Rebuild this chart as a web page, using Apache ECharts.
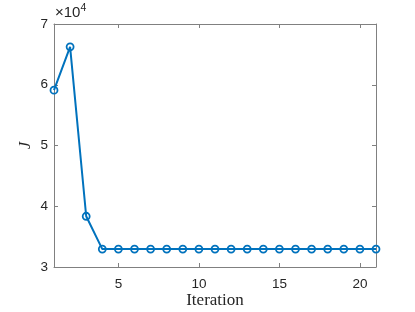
<!DOCTYPE html>
<html><head><meta charset="utf-8">
<script src="https://cdn.jsdelivr.net/npm/echarts@6/dist/echarts.min.js"></script>
<style>html,body{margin:0;padding:0;background:#fff}#c{width:415px;height:312px}</style>
</head><body><div id="c"></div>
<script>
const iterations = [1,2,3,4,5,6,7,8,9,10,11,12,13,14,15,16,17,18,19,20,21];
const J = [59100,66250,38350,32950,32950,32950,32950,32950,32950,32950,32950,32950,32950,32950,32950,32950,32950,32950,32950,32950,32950];
const xTicks = [5,10,15,20];
const yTicks = [30000,40000,50000,60000,70000];

const axisColor = '#808080';
const textColor = '#262626';
const chart = echarts.init(document.getElementById('c'));
const data = iterations.map((x,i)=>[x,J[i]]);
const xBase = {
  type:'value', min:1, max:21,
  axisLine:{show:true,lineStyle:{color:axisColor,width:1}},
  axisTick:{show:true,inside:true,length:4,lineStyle:{color:axisColor},customValues:xTicks},
  splitLine:{show:false}
};
const yBase = {
  type:'value', min:30000, max:70000, interval:10000,
  axisLine:{show:true,lineStyle:{color:axisColor,width:1}},
  axisTick:{show:true,inside:true,length:4,lineStyle:{color:axisColor}},
  splitLine:{show:false}
};
chart.setOption({
  animation:false,
  grid:{left:54,top:24,right:39,bottom:45,containLabel:false,outerBoundsMode:'none'},
  xAxis:[
    Object.assign({}, xBase, {position:'bottom',
      name:'Iteration', nameLocation:'middle', nameGap:25, nameMoveOverlap:false,
      nameTextStyle:{fontFamily:'Liberation Serif',fontSize:17,color:textColor},
      axisLabel:{show:true,customValues:xTicks,fontFamily:'Liberation Sans',fontSize:13.5,color:textColor,margin:10}}),
    Object.assign({}, xBase, {position:'top', axisLabel:{show:false}})
  ],
  yAxis:[
    Object.assign({}, yBase, {position:'left',
      name:'J', nameLocation:'middle', nameGap:20, nameMoveOverlap:false,
      nameTextStyle:{fontFamily:'Liberation Serif',fontStyle:'italic',fontSize:16,color:textColor},
      axisLabel:{show:true,formatter:v=>String(v/10000),fontFamily:'Liberation Sans',fontSize:13.5,color:textColor,margin:6}}),
    Object.assign({}, yBase, {position:'right', axisLabel:{show:false}})
  ],
  graphic:[{
    type:'text', left:55, top:3,
    style:{text:'×10{sup|4}', rich:{sup:{fontSize:10.5,verticalAlign:'top',padding:[0,0,8,0],fontFamily:'Liberation Sans',fill:textColor}},
      fontFamily:'Liberation Sans', fontSize:15, fill:textColor}
  }],
  series:[{
    type:'line', data:data, xAxisIndex:0, yAxisIndex:0,
    symbol:'circle', symbolSize:7,
    lineStyle:{color:'#0072BD',width:2},
    itemStyle:{color:'rgba(255,255,255,0)',borderColor:'#0072BD',borderWidth:1.8},
    clip:false
  }]
});
</script></body></html>
